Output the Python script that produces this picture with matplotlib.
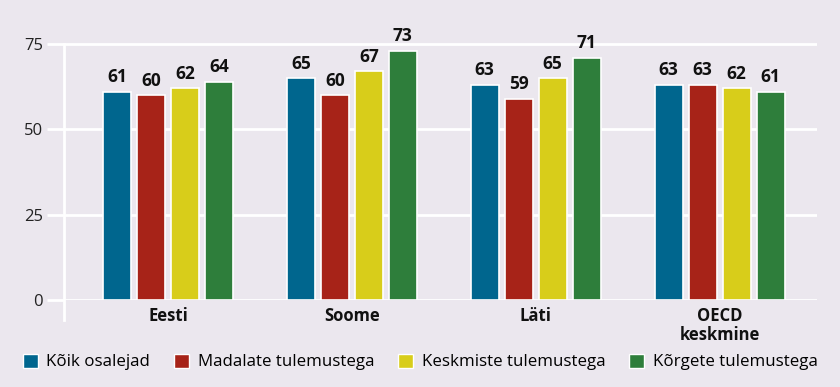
import numpy as np
import matplotlib
matplotlib.use("Agg")
import matplotlib.pyplot as plt
from matplotlib.patches import Patch

plt.rcParams['font.family'] = ['Open Sans', 'DejaVu Sans']

categories = ["Eesti", "Soome", "Läti", "OECD\nkeskmine"]
series = ["Kõik osalejad", "Madalate tulemustega", "Keskmiste tulemustega", "Kõrgete tulemustega"]
koik = [61, 65, 63, 63]
madal = [60, 60, 59, 63]
keskm = [62, 67, 65, 62]
korge = [64, 73, 71, 61]
yticks = [0, 25, 50, 75]

colors = ["#00668E", "#A72318", "#D8CD1A", "#2E7E3B"]
bg = "#EBE7EE"

fig = plt.figure(figsize=(8.4, 3.87), dpi=100, facecolor=bg)
ax = fig.add_axes([64 / 840, 1 - 300 / 387, (817 - 64) / 840, (300 - 24) / 387])
ax.set_facecolor(bg)

x = np.arange(len(categories))
step = 34 / 184
width = 28 / 184
for i, (vals, c) in enumerate(zip([koik, madal, keskm, korge], colors)):
    pos = x + (i - 1.5) * step
    bars = ax.bar(pos, vals, width, color=c, edgecolor="white", linewidth=1.2, zorder=3)
    for b, v in zip(bars, vals):
        ax.text(b.get_x() + b.get_width() / 2, v + 1.6, str(v), ha="center", va="bottom",
                fontsize=12.5, fontweight="bold", color="#111111")

ax.set_xlim(-0.565, 3.53)
ax.set_ylim(0, 75 * 276 / 256)
ax.set_yticks(yticks)
ax.set_yticklabels([str(t) for t in yticks], fontsize=12, color="#222222")
ax.tick_params(axis="y", length=12, width=2, color="white", pad=3)
ax.grid(axis="y", color="white", linewidth=2, zorder=1)
ax.set_xticks(x)
ax.set_xticklabels(categories, fontsize=12, fontweight="bold", color="#111111", linespacing=1.1)
ax.tick_params(axis="x", length=0, pad=5)

for s in ["top", "right", "bottom"]:
    ax.spines[s].set_visible(False)
ax.spines["left"].set_color("white")
ax.spines["left"].set_linewidth(2)
ax.spines["left"].set_bounds(-6, 75)

handles = [Patch(facecolor=c, edgecolor="white", linewidth=1) for c in colors]
fig.legend(handles, series, loc="center", bbox_to_anchor=(0.5, 1 - 362 / 387), ncol=4,
           frameon=False, fontsize=12.2, handlelength=0.9, handleheight=0.9,
           handletextpad=0.5, columnspacing=1.4)

fig.savefig("out.png", dpi=100, facecolor=bg)
